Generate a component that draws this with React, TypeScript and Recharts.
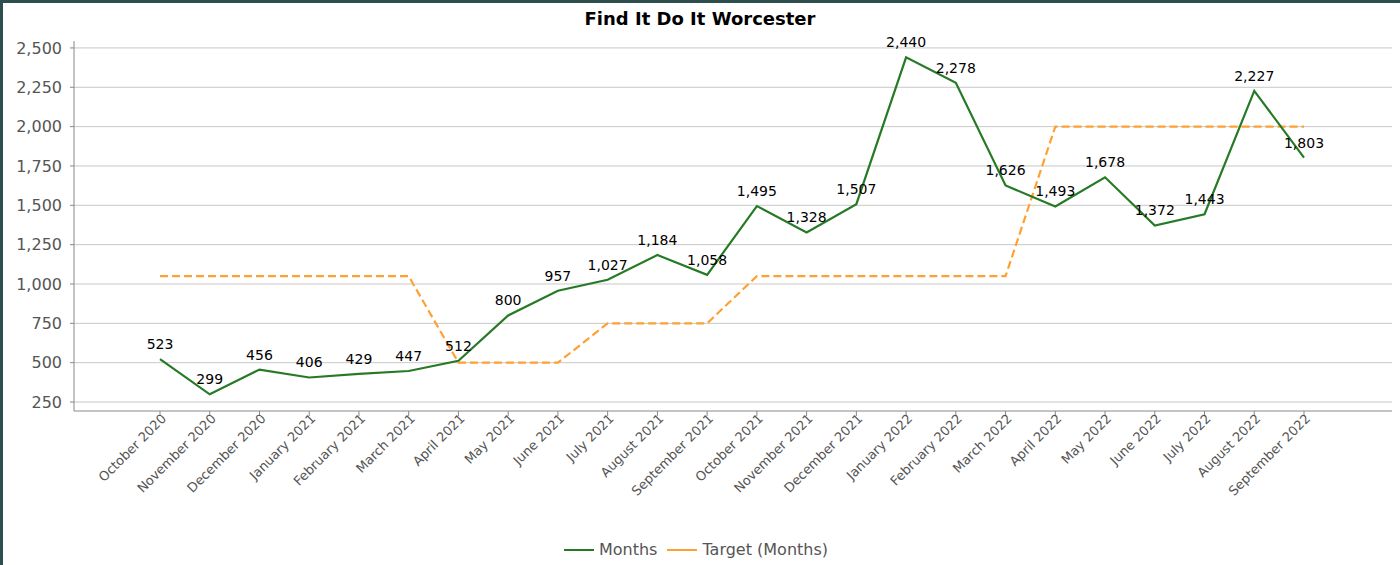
import { LineChart, Line, XAxis, YAxis, CartesianGrid, Legend, LabelList } from 'recharts'

const months = [
  'October 2020', 'November 2020', 'December 2020', 'January 2021', 'February 2021', 'March 2021',
  'April 2021', 'May 2021', 'June 2021', 'July 2021', 'August 2021', 'September 2021',
  'October 2021', 'November 2021', 'December 2021', 'January 2022', 'February 2022', 'March 2022',
  'April 2022', 'May 2022', 'June 2022', 'July 2022', 'August 2022', 'September 2022',
]
const actual = [
  523, 299, 456, 406, 429, 447, 512, 800, 957, 1027, 1184, 1058,
  1495, 1328, 1507, 2440, 2278, 1626, 1493, 1678, 1372, 1443, 2227, 1803,
]
const target = [
  1050, 1050, 1050, 1050, 1050, 1050, 500, 500, 500, 750, 750, 750,
  1050, 1050, 1050, 1050, 1050, 1050, 2000, 2000, 2000, 2000, 2000, 2000,
]
const yTicks = [250, 500, 750, 1000, 1250, 1500, 1750, 2000, 2250, 2500]

const data = months.map((m, i) => ({ month: m, actual: actual[i], target: target[i] }))

const GREEN = '#267a26'
const ORANGE = '#ffa032'
const FONT = 'DejaVu Sans, Verdana, sans-serif'

const fmt = (v: number) => v.toLocaleString('en-US')

function MonthTick({ x, y, payload }: any) {
  return (
    <text
      x={x}
      y={y}
      dy={6}
      dx={4}
      textAnchor="end"
      transform={`rotate(-45, ${x}, ${y})`}
      fill="#555"
      fontSize={13}
      fontFamily={FONT}
    >
      {payload.value}
    </text>
  )
}

function LegendContent() {
  const items = [
    { label: 'Months', color: GREEN },
    { label: 'Target (Months)', color: ORANGE },
  ]
  return (
    <div style={{ display: 'flex', justifyContent: 'center', gap: 10, marginTop: 5, fontFamily: FONT, fontSize: 16, color: '#555' }}>
      {items.map((it) => (
        <div key={it.label} style={{ display: 'flex', alignItems: 'center' }}>
          <span style={{ display: 'inline-block', width: 30, height: 2, background: it.color, marginRight: 5 }} />
          {it.label}
        </div>
      ))}
    </div>
  )
}

export default function App() {
  return (
    <div style={{ position: 'absolute', left: 0, top: 0, width: 1400, height: 565, background: '#fff' }}>
      <div style={{ position: 'absolute', left: 0, width: 1400, textAlign: 'center', fontFamily: FONT, fontWeight: 'bold', fontSize: 18, top: 8, color: '#000' }}>
        Find It Do It Worcester
      </div>
      <LineChart width={1400} height={565} data={data} margin={{ top: 41, right: 8, bottom: 0, left: 0 }}>
        <CartesianGrid vertical={false} stroke="#c8c8c8" syncWithTicks />
        <XAxis
          dataKey="month"
          interval={0}
          height={124}
          padding={{ left: 86, right: 88 }}
          stroke="#888"
          tickSize={5}
          tick={<MonthTick />}
        />
        <YAxis
          width={74}
          domain={[193, 2544]}
          allowDataOverflow
          ticks={yTicks}
          tickFormatter={fmt}
          stroke="#888"
          tickSize={4}
          tickMargin={8}
          tick={{ fill: '#555', fontSize: 16, fontFamily: FONT }}
        />
        <Legend verticalAlign="bottom" height={30} content={<LegendContent />} />
        <Line
          dataKey="target"
          name="Target (Months)"
          stroke={ORANGE}
          strokeWidth={2.2}
          strokeDasharray="8 4"
          dot={false}
          type="linear"
          isAnimationActive={false}
        />
        <Line
          dataKey="actual"
          name="Months"
          stroke={GREEN}
          strokeWidth={2.2}
          dot={false}
          type="linear"
          isAnimationActive={false}
        >
          <LabelList dataKey="actual" position="top" offset={10} formatter={(v: any) => fmt(v)} fill="#000" fontSize={14} fontFamily={FONT} />
        </Line>
      </LineChart>
      <div style={{ position: 'absolute', left: 0, top: 0, width: 3, height: 565, background: '#2f4f4f' }} />
      <div style={{ position: 'absolute', left: 0, top: 0, width: 1400, height: 3, background: '#2f4f4f' }} />
    </div>
  )
}
